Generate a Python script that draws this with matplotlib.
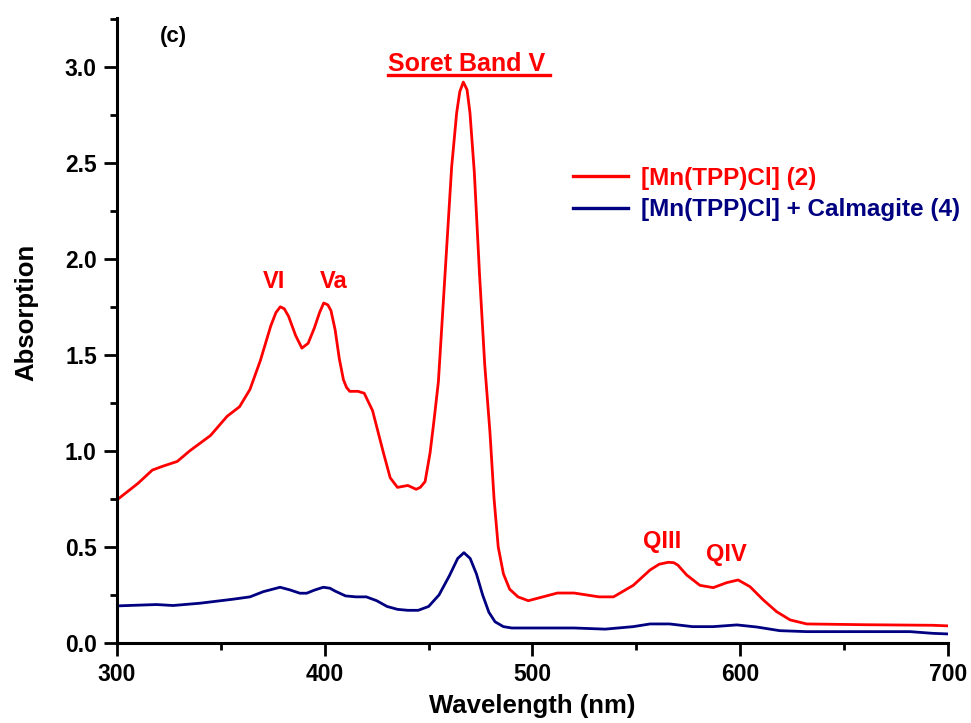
import numpy as np
import matplotlib.pyplot as plt
from matplotlib.lines import Line2D
from matplotlib.ticker import MultipleLocator

plt.rcParams['font.family'] = ['Liberation Sans', 'DejaVu Sans']
plt.rcParams['font.weight'] = 'bold'

# red: [Mn(TPP)Cl] (2)
wl_red = [300, 310, 317, 322, 329, 335, 345, 353, 359, 364, 369, 374, 376.5, 378.6, 380.5, 382.6,
          386, 389, 392, 395, 397.5, 399.5, 401.5, 403, 405, 407, 409, 410.5, 412, 416, 419, 423,
          428, 431.5, 435, 440, 444, 446, 448.3, 450.7, 452.5, 454.7, 457.9, 461.1, 463.5, 465,
          466.7, 468.5, 469.9, 472, 474.5, 477, 479.5, 481.5, 483.5, 486, 489, 493, 498, 505,
          512, 520, 532, 539, 548.5, 556.6, 561, 565.4, 568, 570, 574.2, 580.6, 587, 593.5,
          599, 604.7, 611.1, 617.5, 624, 632, 660, 692.8, 700]
abs_red = [0.745, 0.83, 0.90, 0.92, 0.945, 1.0, 1.08, 1.18, 1.23, 1.32, 1.47, 1.65, 1.72, 1.75, 1.74, 1.70,
           1.60, 1.535, 1.56, 1.64, 1.72, 1.77, 1.76, 1.73, 1.63, 1.48, 1.37, 1.33, 1.31, 1.31, 1.30, 1.21,
           1.00, 0.86, 0.81, 0.82, 0.80, 0.81, 0.84, 0.99, 1.15, 1.36, 1.92, 2.48, 2.76, 2.87,
           2.92, 2.88, 2.76, 2.45, 1.92, 1.45, 1.10, 0.75, 0.50, 0.36, 0.28, 0.24, 0.22, 0.24,
           0.26, 0.26, 0.24, 0.24, 0.30, 0.38, 0.41, 0.42, 0.418, 0.405, 0.354, 0.30, 0.288, 0.314,
           0.328, 0.293, 0.224, 0.163, 0.12, 0.099, 0.095, 0.092, 0.089]

# navy: [Mn(TPP)Cl] + Calmagite (4)
wl_blue = [300, 319, 327, 340, 356, 364, 370.4, 378.5, 383.3, 388, 391.3, 395, 399.3, 402.5, 405, 410,
           415, 420, 425, 430, 435, 440, 445, 450, 455, 460, 464, 467, 470, 473, 476, 479,
           482, 486, 490, 500, 520, 535, 548.5, 556.6, 566, 577, 587, 598.4, 608, 619, 632, 681.7,
           692.8, 700]
abs_blue = [0.193, 0.20, 0.195, 0.207, 0.228, 0.24, 0.267, 0.29, 0.276, 0.259, 0.259, 0.275, 0.29, 0.285, 0.27, 0.245,
            0.24, 0.24, 0.22, 0.19, 0.175, 0.17, 0.17, 0.19, 0.25, 0.35, 0.44, 0.47, 0.44, 0.36, 0.25, 0.16,
            0.11, 0.085, 0.078, 0.078, 0.078, 0.072, 0.085, 0.099, 0.099, 0.085, 0.085, 0.094, 0.083, 0.064, 0.059, 0.059,
            0.05, 0.047]

fig = plt.figure(figsize=(9.71, 7.23), dpi=100)
ax = fig.add_axes([0.1205, 0.1107, 0.8558, 0.8648])

ax.plot(wl_red, abs_red, color='#ff0000', lw=2.0, label='[Mn(TPP)Cl] (2)')
ax.plot(wl_blue, abs_blue, color='#000080', lw=2.0, label='[Mn(TPP)Cl] + Calmagite (4)')

ax.set_xlim(300, 700)
ax.set_ylim(0, 3.255)
ax.xaxis.set_major_locator(MultipleLocator(100))
ax.xaxis.set_minor_locator(MultipleLocator(50))
ax.yaxis.set_major_locator(MultipleLocator(0.5))
ax.yaxis.set_minor_locator(MultipleLocator(0.25))
ax.yaxis.set_major_formatter(plt.FormatStrFormatter('%.1f'))

for s in ['top', 'right']:
    ax.spines[s].set_visible(False)
for s in ['left', 'bottom']:
    ax.spines[s].set_linewidth(2.2)
ax.tick_params(which='major', direction='out', length=9.5, width=2, labelsize=16.5, pad=5)
ax.tick_params(which='minor', direction='out', length=5, width=2)

ax.set_xlabel('Wavelength (nm)', fontsize=18.5, fontweight='bold', labelpad=6)
ax.set_ylabel('Absorption', fontsize=18.5, fontweight='bold')
ax.yaxis.set_label_coords(-0.095, 0.528)

ax.text(0.052, 0.970, '(c)', transform=ax.transAxes, fontsize=16, fontweight='bold',
        ha='left', va='center')

# annotations
ax.text(468.5, 2.98, 'Soret Band V', color='red', fontsize=18, fontweight='bold', ha='center', va='baseline')
fig.add_artist(Line2D([388 / 971, 550 / 971], [1 - 75 / 723, 1 - 75 / 723],
                      color='red', lw=2.4, transform=fig.transFigure))
ax.text(375.6, 1.85, 'VI', color='red', fontsize=17, fontweight='bold', ha='center', va='baseline')
ax.text(404.2, 1.85, 'Va', color='red', fontsize=17, fontweight='bold', ha='center', va='baseline')
ax.text(562.3, 0.495, 'QIII', color='red', fontsize=17, fontweight='bold', ha='center', va='baseline')
ax.text(593.3, 0.425, 'QIV', color='red', fontsize=17, fontweight='bold', ha='center', va='baseline')

leg = ax.legend(loc='upper left', bbox_to_anchor=(0.549, 0.762), frameon=False, fontsize=17.5,
                handlelength=2.25, handletextpad=0.55, labelspacing=0.36,
                borderaxespad=0, borderpad=0,
                labelcolor=['#ff0000', '#000080'])
for t in leg.get_texts():
    t.set_fontweight('bold')
for h in leg.get_lines():
    h.set_linewidth(2.4)

fig.savefig('out.png', dpi=100)
